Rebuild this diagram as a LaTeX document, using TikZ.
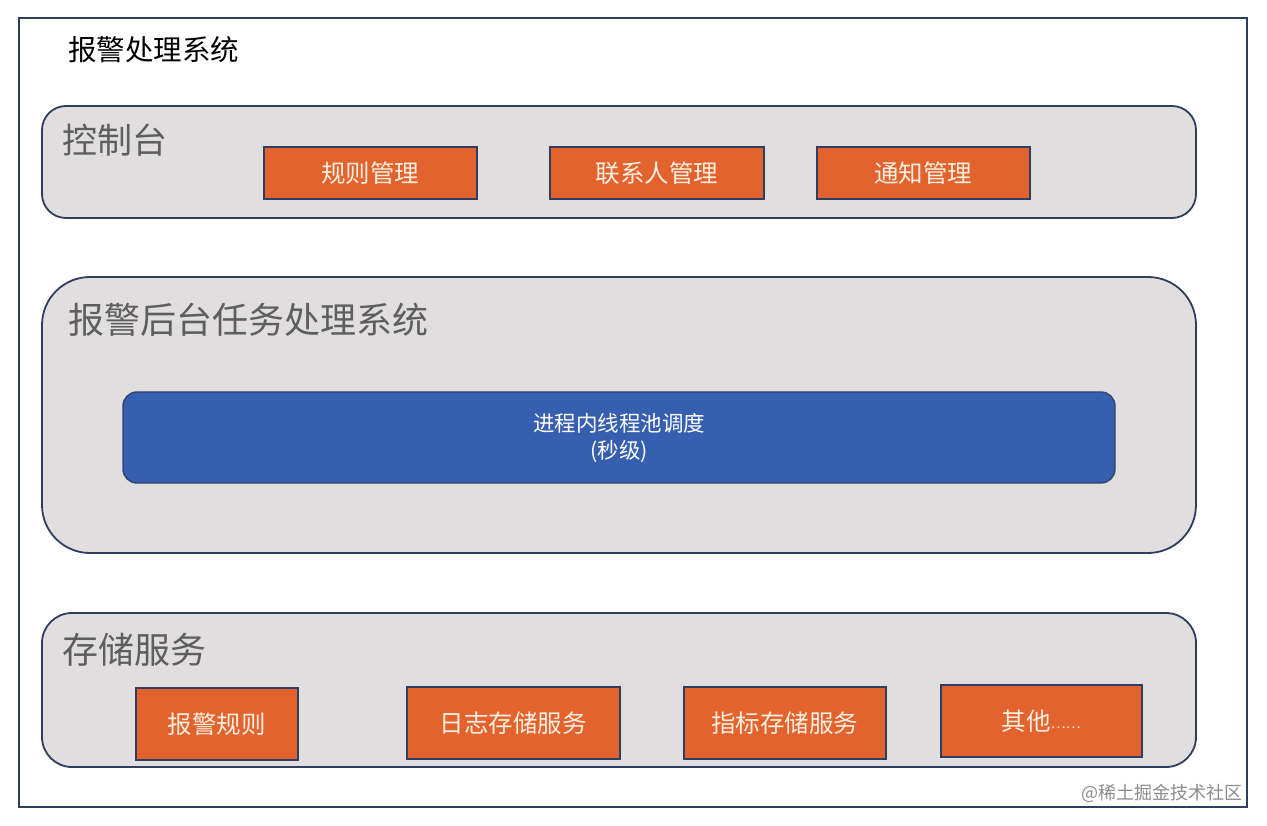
\documentclass[tikz,border=0pt]{standalone}
\usepackage{fontspec}
\setmainfont{Noto Sans CJK SC}
\newfontfamily\cjk{Noto Sans CJK SC}
\definecolor{navy}{HTML}{2F3D5E}
\definecolor{panelfill}{HTML}{E0DEDF}
\definecolor{orangebox}{HTML}{E3632F}
\definecolor{bluebox}{HTML}{365FB0}
\definecolor{labelgray}{HTML}{5E5E5E}
\definecolor{boxtext}{HTML}{FBEFE0}
\tikzset{
  panel/.style={draw=navy, line width=1.8pt, fill=panelfill},
  obox/.style={draw=navy, line width=1.6pt, fill=orangebox, text=boxtext, font=\cjk\fontsize{24.5}{28}\selectfont},
  plabel/.style={anchor=west, text=labelgray, inner sep=0pt},
}
\begin{document}
\begin{tikzpicture}[x=1pt,y=-1pt]
\useasboundingbox (0,0) rectangle (1267,826);
\fill[white] (0,0) rectangle (1267,826);
% outer frame
\node[draw=navy, line width=1.8pt, minimum width=1228pt, minimum height=789pt, anchor=north west, inner sep=0pt] (frame) at (18,17) {};
\node[anchor=west, inner sep=0pt, font=\cjk\fontsize{28.5}{32}\selectfont] (title) at (68,50) {报警处理系统};
% console
\draw[panel, rounded corners=24pt] (42,106) rectangle (1196,218);
\node[plabel, font=\cjk\fontsize{35}{40}\selectfont] (console) at (62,140) {控制台};
\node[obox, minimum width=213pt, minimum height=52pt, anchor=north west] (r1) at (263,146) {规则管理};
\node[obox, minimum width=214pt, minimum height=52pt, anchor=north west] (r2) at (549,146) {联系人管理};
\node[obox, minimum width=213pt, minimum height=52pt, anchor=north west] (r3) at (816,146) {通知管理};
% backend
\draw[panel, rounded corners=48pt] (42,277) rectangle (1196,553);
\node[plabel, font=\cjk\fontsize{36}{42}\selectfont] (backend) at (68,320) {报警后台任务处理系统};
\draw[draw=navy!80!bluebox, line width=1.4pt, fill=bluebox, rounded corners=14pt] (123,392) rectangle (1115,483);
\node[text=white, align=center, font=\cjk\fontsize{21.5}{27}\selectfont, inner sep=0pt] (pool) at (619,438) {进程内线程池调度\\(秒级)};
% storage
\draw[panel, rounded corners=30pt] (42,613) rectangle (1196,767);
\node[plabel, font=\cjk\fontsize{36}{42}\selectfont] (storage) at (62,650) {存储服务};
\node[obox, minimum width=162pt, minimum height=72pt, anchor=north west] (s1) at (135,687) {报警规则};
\node[obox, minimum width=213pt, minimum height=72pt, anchor=north west] (s2) at (406,686) {日志存储服务};
\node[obox, minimum width=202pt, minimum height=72pt, anchor=north west] (s3) at (683,686) {指标存储服务};
\node[obox, minimum width=201pt, minimum height=72pt, anchor=north west] (s4) at (940,684) {其他\raisebox{2pt}{\fontsize{14}{14}\selectfont ……}};
% watermark
\node[anchor=east, inner sep=0pt, text=black!45, font=\cjk\fontsize{18}{20}\selectfont] (wm) at (1243,793) {@稀土掘金技术社区};
\end{tikzpicture}
\end{document}
